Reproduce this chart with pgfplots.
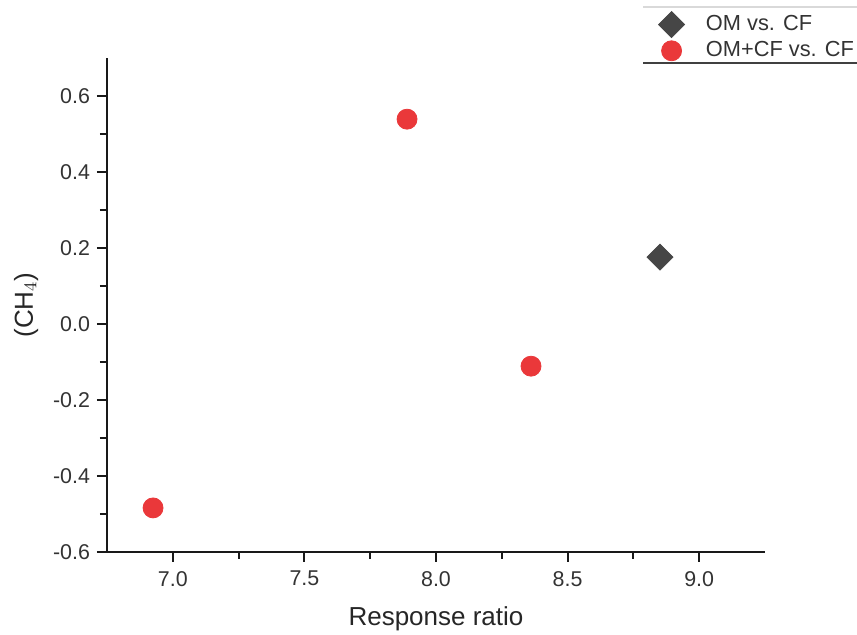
\documentclass[border=0pt]{standalone}
\usepackage{pgfplots}
\pgfplotsset{compat=1.18}
\usepackage{fontspec}
\setmainfont{Liberation Sans}
\definecolor{ptred}{RGB}{234,56,58}
\definecolor{ptgray}{RGB}{70,70,70}
\pgfplotsset{myleg/.style={legend image code/.code={\path (0pt,0pt) (23.5pt,0pt); \draw[mark repeat=2,mark phase=2,##1] plot coordinates {(0pt,0pt)(8.5pt,0pt)(23.5pt,0pt)};}}}
\begin{document}
\begin{tikzpicture}
\path[use as bounding box] (-53.5pt,-41.5pt) rectangle (375pt,276pt);
\begin{axis}[
  scale only axis,
  width=329pt, height=247pt,
  at={(0pt,0pt)}, anchor=south west,
  xmin=6.75, xmax=9.25, ymin=-0.6, ymax=0.7,
  axis x line*=bottom, axis y line*=left,
  axis line style={line width=1pt, black!90},
  xtick={7.0,7.5,8.0,8.5,9.0},
  ytick={-0.6,-0.4,-0.2,0.0,0.2,0.4,0.6},
  minor x tick num=1, minor y tick num=1,
  tick align=outside,
  major tick length=5pt, minor tick length=3.5pt,
  tick style={line width=1pt, black!90},
  /pgf/number format/assume math mode=true,
  /pgf/number format/.cd, fixed, fixed zerofill, precision=1, /pgfplots/.cd,
  ticklabel style={font=\fontsize{10.7}{12}\selectfont, text=black!80},
  xticklabel style={yshift=-1pt},
  xlabel={Response ratio},
  ylabel={(CH$_4$)},
  xlabel style={font=\fontsize{13}{15}\selectfont, text=black!85, at={(axis description cs:0.5,-0.148)}, anchor=base},
  ylabel style={font=\fontsize{13}{15}\selectfont, text=black!85, at={(axis description cs:-0.123,0.5)}, anchor=center},
  legend style={at={(0.831,1.095)}, anchor=north west, draw=none, fill=none,
    font=\fontsize{10.9}{12.5}\selectfont, text=black!80, inner sep=0pt, row sep=0pt},
  legend cell align=left,
  clip=false,
]
\addplot[only marks, myleg, mark=square*, mark size=4.6pt, mark options={rotate=45, draw=ptgray, fill=ptgray}]
  coordinates {(8.851,0.176)};
\addlegendentry{OM vs. CF}
\addplot[only marks, myleg, mark=*, mark size=5pt, mark options={draw=ptred, fill=ptred}]
  coordinates {(6.925,-0.484) (7.890,0.539) (8.361,-0.111)};
\addlegendentry{OM+CF vs. CF}
\end{axis}
\draw[black!15, line width=0.6pt] (268pt,272.5pt) -- (375pt,272.5pt);
\draw[black!75, line width=0.6pt] (268pt,244.5pt) -- (375pt,244.5pt);
\end{tikzpicture}
\end{document}
